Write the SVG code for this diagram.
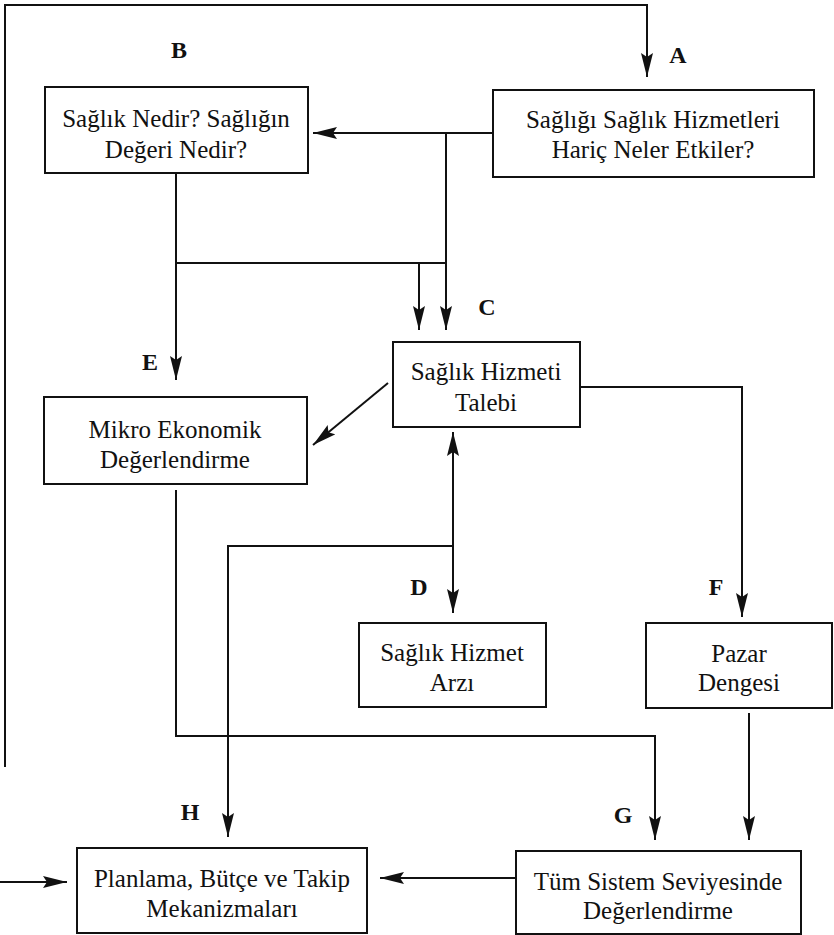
<svg xmlns="http://www.w3.org/2000/svg" width="834" height="935" viewBox="0 0 834 935">
<defs>
<marker id="ah" viewBox="0 0 24 12" refX="24" refY="6" markerWidth="24" markerHeight="12" markerUnits="userSpaceOnUse" orient="auto-start-reverse">
<path d="M0,0 L24,6 L0,12 L4,6 z" fill="#111"/>
</marker>
<style>
.box{fill:#fff;stroke:#111;stroke-width:2}
text{fill:#111;text-anchor:middle}
.t{font-family:'Liberation Serif','Tinos','DejaVu Serif','Noto Serif',serif;font-size:25px;font-weight:normal}
.lbl{font-family:'Liberation Serif','Tinos','DejaVu Serif',serif;font-size:24px;font-weight:bold}
.c{fill:none;stroke:#111;stroke-width:2}
.a{marker-end:url(#ah)}
</style>
</defs>
<rect width="834" height="935" fill="#fff"/>
<g id="connectors">
<path class="c a" d="M5 767 V5 H647 V77"/>
<path class="c a" d="M493 133 H313"/>
<path class="c a" d="M446 133 V330"/>
<path class="c a" d="M176 173 V380"/>
<path class="c" d="M176 263 H446"/>
<path class="c a" d="M419 263 V330"/>
<path class="c a" d="M388 383 L313 445"/>
<path class="c a" d="M580 387 H742 V617"/>
<path class="c a" d="M453 432 V613" marker-start="url(#ah)"/>
<path class="c a" d="M453 546 H228 V837"/>
<path class="c a" d="M176 490 V736 H655 V840"/>
<path class="c a" d="M749 713 V840"/>
<path class="c a" d="M516 878 H380"/>
<path class="c a" d="M0 882 H67"/>
</g>
<g id="nodeA">
<rect class="box" x="493" y="90" width="321" height="87"/>
<text class="t" x="653" y="128">Sağlığı Sağlık Hizmetleri</text>
<text class="t" x="653" y="158">Hariç Neler Etkiler?</text>
<text class="lbl" x="678" y="63">A</text>
</g>
<g id="nodeB">
<rect class="box" x="45" y="87" width="263" height="86"/>
<text class="t" x="176" y="127">Sağlık Nedir? Sağlığın</text>
<text class="t" x="176" y="158">Değeri Nedir?</text>
<text class="lbl" x="179" y="58">B</text>
</g>
<g id="nodeC">
<rect class="box" x="393" y="342" width="187" height="85"/>
<text class="t" x="486" y="380">Sağlık Hizmeti</text>
<text class="t" x="486" y="411">Talebi</text>
<text class="lbl" x="487" y="315">C</text>
</g>
<g id="nodeE">
<rect class="box" x="44" y="397" width="263" height="87"/>
<text class="t" x="175" y="438">Mikro Ekonomik</text>
<text class="t" x="175" y="468">Değerlendirme</text>
<text class="lbl" x="150" y="370">E</text>
</g>
<g id="nodeD">
<rect class="box" x="359" y="623" width="187" height="84"/>
<text class="t" x="452" y="661">Sağlık Hizmet</text>
<text class="t" x="452" y="691">Arzı</text>
<text class="lbl" x="419" y="595">D</text>
</g>
<g id="nodeF">
<rect class="box" x="646" y="623" width="186" height="85"/>
<text class="t" x="739" y="662">Pazar</text>
<text class="t" x="739" y="691">Dengesi</text>
<text class="lbl" x="716" y="595">F</text>
</g>
<g id="nodeG">
<rect class="box" x="516" y="851" width="285" height="83"/>
<text class="t" x="658" y="890">Tüm Sistem Seviyesinde</text>
<text class="t" x="658" y="919">Değerlendirme</text>
<text class="lbl" x="623" y="823">G</text>
</g>
<g id="nodeH">
<rect class="box" x="77" y="848" width="290" height="85"/>
<text class="t" x="222" y="887">Planlama, Bütçe ve Takip</text>
<text class="t" x="222" y="917">Mekanizmaları</text>
<text class="lbl" x="190" y="820">H</text>
</g>
</svg>
